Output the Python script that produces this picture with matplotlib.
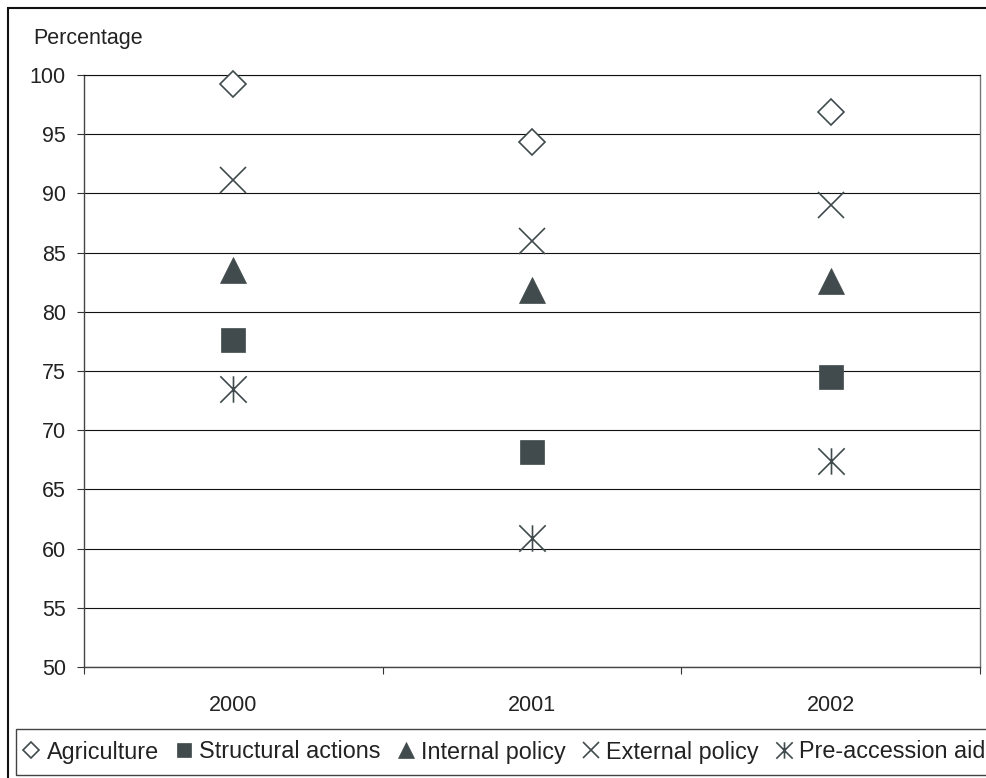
import matplotlib
matplotlib.use("Agg")
import matplotlib.pyplot as plt
from matplotlib.path import Path
from matplotlib.lines import Line2D
from matplotlib.patches import Rectangle

plt.rcParams['font.family'] = ['Liberation Sans', 'DejaVu Sans']

years = ["2000", "2001", "2002"]
series_names = ["Agriculture", "Structural actions", "Internal policy",
                "External policy", "Pre-accession aid"]
agriculture = [99.2, 94.3, 96.9]
structural_actions = [77.6, 68.2, 74.5]
internal_policy = [83.5, 81.8, 82.6]
external_policy = [91.1, 86.0, 89.0]
pre_accession_aid = [73.5, 60.9, 67.4]
y_ticks = [50, 55, 60, 65, 70, 75, 80, 85, 90, 95, 100]

W, H = 987, 778
fig = plt.figure(figsize=(W / 100, H / 100), dpi=100)
ax = fig.add_axes([84 / W, 1 - 667 / H, (980 - 84) / W, (667 - 75) / H])

mc = '#414b4d'
asterisk = Path([(0, -1), (0, 1), (-1, -1), (1, 1), (-1, 1), (1, -1)],
                [Path.MOVETO, Path.LINETO, Path.MOVETO, Path.LINETO,
                 Path.MOVETO, Path.LINETO])

styles = [
    dict(marker='D', ms=13.2, mfc='white', mec=mc, mew=1.2),
    dict(marker='s', ms=17, mfc=mc, mec=mc, mew=0.5),
    dict(marker='^', ms=19, mfc=mc, mec=mc, mew=0.5),
    dict(marker='x', ms=19, mfc=mc, mec=mc, mew=1.2),
    dict(marker=asterisk, ms=19, mfc=mc, mec=mc, mew=1.2),
]
data = [agriculture, structural_actions, internal_policy, external_policy, pre_accession_aid]
xs = list(range(len(years)))
for vals, st in zip(data, styles):
    ax.plot(xs, vals, linestyle='none', zorder=3, clip_on=False, **st)

ax.set_xlim(-0.5, len(years) - 0.5)
ax.set_ylim(50, 100)
ax.set_yticks(y_ticks)
ax.set_yticklabels([str(t) for t in y_ticks], fontsize=15.5, color='#222222')
ax.set_xticks(xs)
ax.set_xticklabels(years, fontsize=15.5, color='#222222')
ax.set_xticks([x - 0.5 for x in xs] + [len(years) - 0.5], minor=True)
ax.tick_params(axis='x', which='major', length=0, pad=20)
ax.tick_params(axis='x', which='minor', length=5, width=0.8, color='#333333', direction='out')
ax.tick_params(axis='y', which='major', length=5, width=0.8, color='#333333', direction='out', pad=8)
ax.yaxis.grid(True, color='#111111', linewidth=0.8)
ax.set_axisbelow(True)
for s in ['left', 'bottom']:
    ax.spines[s].set_color('#444444')
    ax.spines[s].set_linewidth(1.0)
ax.spines['right'].set_color('#777777')
ax.spines['right'].set_linewidth(1.0)
ax.spines['top'].set_color('#111111')
ax.spines['top'].set_linewidth(0.8)

fig.text(33 / W, 1 - 44 / H, "Percentage", fontsize=15.5, color='#222222',
         ha='left', va='baseline')

# figure border
fig.patches.append(Rectangle((8.5 / W, -0.1), 1.2, 1 - 8.5 / H + 0.1,
                             transform=fig.transFigure, fill=False,
                             edgecolor='#111111', linewidth=1.5))
# legend box
fig.patches.append(Rectangle((16 / W, 1 - 775 / H), 1.0, (775 - 729) / H,
                             transform=fig.transFigure, fill=False,
                             edgecolor='#444444', linewidth=1.0))

handles = []
for st in styles:
    st2 = dict(st)
    handles.append(Line2D([], [], linestyle='none', **st2))
leg = fig.legend(handles, series_names, loc='center left',
                 bbox_to_anchor=(22 / W, 1 - 752 / H), ncol=5, frameon=False,
                 fontsize=16.8, markerscale=0.62, handlelength=0.8,
                 handletextpad=0.25, columnspacing=0.68, borderpad=0,
                 borderaxespad=0)
for t in leg.get_texts():
    t.set_color('#222222')

fig.savefig("out.png", dpi=100)
